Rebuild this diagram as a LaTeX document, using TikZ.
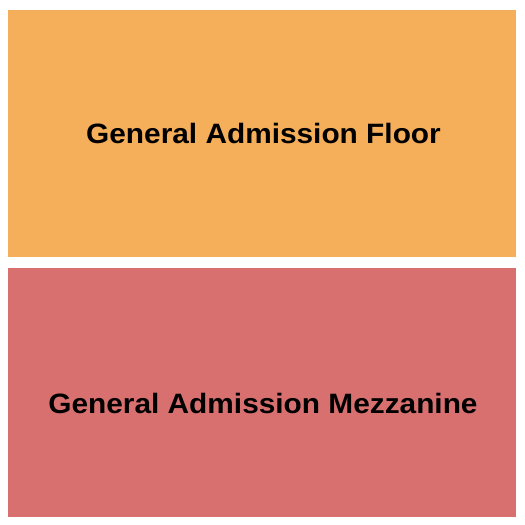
\documentclass[tikz,border=0pt]{standalone}
\usepackage{fontspec}
\setmainfont{Liberation Sans}
\definecolor{gafloor}{HTML}{F5AE5A}
\definecolor{gamezz}{HTML}{D87070}
\begin{document}
\begin{tikzpicture}[x=1pt,y=-1pt,
  lbl/.style={font=\fontsize{28}{32}\selectfont\bfseries,text=black,xscale=1.065}]
\useasboundingbox[fill=white] (0,0) rectangle (525,525);
\fill[gafloor] (8,10) rectangle (516,257);
\fill[gamezz] (8,268) rectangle (516,517);
\node[lbl] (floor) at (263.5,133) {General Admission Floor};
\node[lbl] (mezz) at (263,403) {General Admission Mezzanine};
\end{tikzpicture}
\end{document}
